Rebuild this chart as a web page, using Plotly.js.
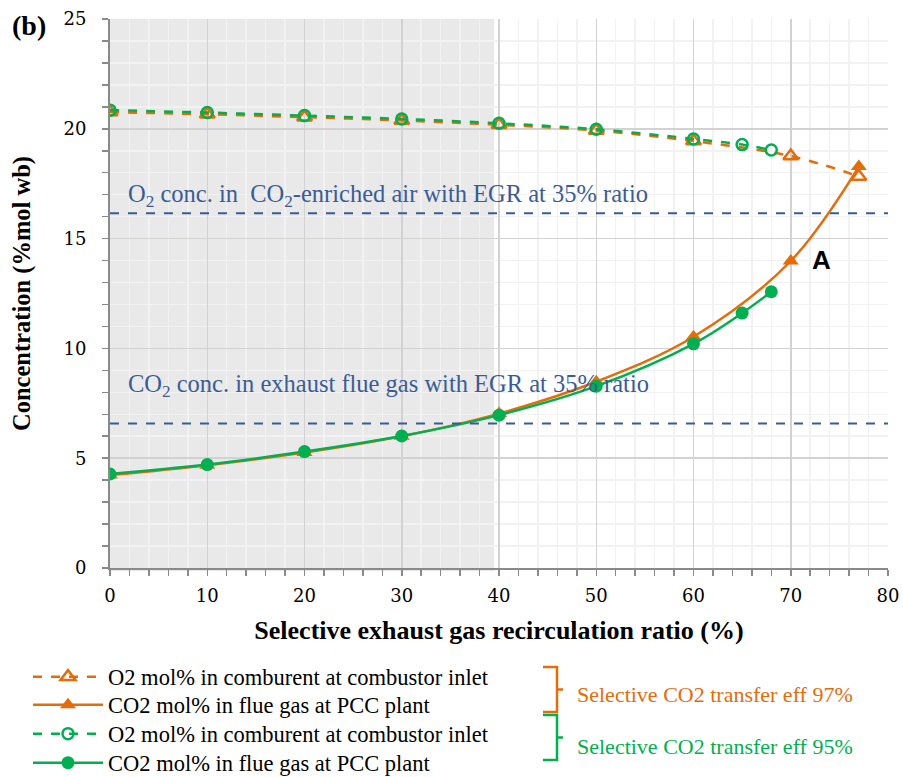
<!DOCTYPE html>
<html>
<head>
<meta charset="utf-8">
<script src="https://cdn.plot.ly/plotly-3.0.1.min.js"></script>
<style>html,body{margin:0;padding:0;background:#fff;}#chart{width:903px;height:777px;}</style>
</head>
<body>
<div id="chart"></div>
<script>
// ---- data ----
const xO2_97 = [0, 10, 20, 30, 40, 50, 60, 70, 77];
const yO2_97 = [20.76, 20.66, 20.53, 20.38, 20.18, 19.92, 19.44, 18.76, 17.83];
const xCO2_97 = [0, 10, 20, 30, 40, 50, 60, 70, 77];
const yCO2_97 = [4.23, 4.68, 5.26, 6.0, 7.03, 8.48, 10.53, 13.98, 18.28];
const xO2_95 = [0, 10, 20, 30, 40, 50, 60, 65, 68];
const yO2_95 = [20.85, 20.74, 20.6, 20.45, 20.25, 19.98, 19.54, 19.28, 19.03];
const xCO2_95 = [0, 10, 20, 30, 40, 50, 60, 65, 68];
const yCO2_95 = [4.28, 4.71, 5.3, 6.01, 6.96, 8.28, 10.21, 11.61, 12.58];
const refLevels = [16.16, 6.58];
const refLabels = ['O<sub>2</sub> conc. in  CO<sub>2</sub>-enriched air with EGR at 35% ratio',
                   'CO<sub>2</sub> conc. in exhaust flue gas with EGR at 35% ratio'];
const shadedRange = [0, 39.5];
const legendNames = ['O2 mol% in comburent at combustor inlet', 'CO2 mol% in flue gas at PCC plant',
                     'O2 mol% in comburent at combustor inlet', 'CO2 mol% in flue gas at PCC plant'];
const groupLabels = ['Selective CO2 transfer eff 97%', 'Selective CO2 transfer eff 95%'];
const pointLabel = {x: 73.2, y: 14.03, text: 'A'};

const ORANGE = '#E46C0A', GREEN = '#00B050', BLUE = '#3A5C96';
const SERIF = 'Liberation Serif, Times New Roman, serif';
const TICKSERIF = 'DejaVu Serif, Liberation Serif, serif';
const SANS = 'Liberation Sans, Arial, sans-serif';

// pixel -> paper helpers (layout positions only)
const L = 110, R = 888, T = 19, B = 568;
const px = v => (v - L) / (R - L);
const py = v => (B - v) / (B - T);

const legendIds = ['legend', 'legend2', 'legend3', 'legend4'];
const legendRows = [677, 705, 734, 763];

const traces = [
  {x: xO2_97, y: yO2_97, name: legendNames[0], legend: legendIds[0], mode: 'lines+markers', line: {color: ORANGE, width: 2.5, dash: 'dash', shape: 'spline'},
   marker: {symbol: 'triangle-up-open', size: 13, color: ORANGE, line: {width: 2.5, color: ORANGE}}},
  {x: xCO2_97, y: yCO2_97, name: legendNames[1], legend: legendIds[1], mode: 'lines+markers', line: {color: ORANGE, width: 2.5, shape: 'spline'},
   marker: {symbol: 'triangle-up', size: 14, color: ORANGE}},
  {x: xO2_95, y: yO2_95, name: legendNames[2], legend: legendIds[2], mode: 'lines+markers', line: {color: GREEN, width: 2.5, dash: 'dash', shape: 'spline'},
   marker: {symbol: 'circle-open', size: 11, color: GREEN, line: {width: 2.5, color: GREEN}}},
  {x: xCO2_95, y: yCO2_95, name: legendNames[3], legend: legendIds[3], mode: 'lines+markers', line: {color: GREEN, width: 2.5, shape: 'spline'},
   marker: {symbol: 'circle', size: 13, color: GREEN}}
];

const shapes = [
  {type: 'rect', xref: 'x', yref: 'paper', x0: shadedRange[0], x1: shadedRange[1], y0: -0.006, y1: 1, fillcolor: '#e9e9e9', line: {width: 0}, layer: 'below'}
];
refLevels.forEach(v => shapes.push({type: 'line', xref: 'paper', yref: 'y', x0: 0, x1: 1, y0: v, y1: v, line: {color: BLUE, width: 2, dash: 'dash'}}));

// brackets
function bracket(yTop, yBot, color) {
  const xv = 557, xl = 543, xr = 563, ym = (yTop + yBot) / 2;
  shapes.push({type: 'path', xref: 'paper', yref: 'paper',
    path: `M ${px(xl)},${py(yTop)} L ${px(xv)},${py(yTop)} L ${px(xv)},${py(yBot)} L ${px(xl)},${py(yBot)} M ${px(xv)},${py(ym)} L ${px(xr)},${py(ym)}`,
    line: {color: color, width: 2.5}});
}
bracket(667, 712, ORANGE);
bracket(715, 760, GREEN);

const annotations = [
  {xref: 'paper', yref: 'paper', x: px(126), y: py(195), xanchor: 'left', yanchor: 'middle', text: refLabels[0], showarrow: false, font: {family: SERIF, size: 24.5, color: BLUE}},
  {xref: 'paper', yref: 'paper', x: px(126), y: py(385), xanchor: 'left', yanchor: 'middle', text: refLabels[1], showarrow: false, font: {family: SERIF, size: 24.5, color: BLUE}},
  {xref: 'x', yref: 'y', x: pointLabel.x, y: pointLabel.y, xanchor: 'center', yanchor: 'middle', text: '<b>' + pointLabel.text + '</b>', showarrow: false, font: {family: SANS, size: 26, color: '#000'}},
  {xref: 'paper', yref: 'paper', x: px(10), y: py(25), xanchor: 'left', yanchor: 'middle', text: '<b>(b)</b>', showarrow: false, font: {family: SERIF, size: 28, color: '#000'}},
  {xref: 'paper', yref: 'paper', x: px(575), y: py(694), xanchor: 'left', yanchor: 'middle', text: groupLabels[0], showarrow: false, font: {family: SERIF, size: 22, color: ORANGE}},
  {xref: 'paper', yref: 'paper', x: px(575), y: py(746), xanchor: 'left', yanchor: 'middle', text: groupLabels[1], showarrow: false, font: {family: SERIF, size: 22, color: GREEN}}
];

const axisCommon = {
  showline: true, linecolor: '#8a8a8a', linewidth: 2, ticks: 'outside', ticklen: 6, tickwidth: 1.5, tickcolor: '#8a8a8a',
  gridcolor: '#d2d2d2', gridwidth: 1.5, zeroline: false, automargin: false,
  tickfont: {family: TICKSERIF, size: 18, color: '#000'}
};

const layout = {
  width: 903, height: 777,
  margin: {l: L, r: 903 - R, t: T, b: 777 - B, autoexpand: false},
  paper_bgcolor: '#fff', plot_bgcolor: '#fff',
  showlegend: true,
  xaxis: Object.assign({}, axisCommon, {range: [0, 80], dtick: 10, tick0: 0, ticklabelstandoff: 4,
    minor: {dtick: 2, showgrid: true, gridcolor: '#f2f2f2', gridwidth: 1.5, ticks: 'outside', ticklen: 6, tickcolor: '#8a8a8a'},
    title: {text: '<b>Selective exhaust gas recirculation ratio (%)</b>', font: {family: SERIF, size: 26, color: '#000'}, standoff: 16}}),
  yaxis: Object.assign({}, axisCommon, {range: [0, 25], dtick: 5, tick0: 0, ticklabelstandoff: 12,
    minor: {dtick: 1, showgrid: true, gridcolor: '#f2f2f2', gridwidth: 1.5, ticks: 'outside', ticklen: 6, tickcolor: '#8a8a8a'},
    title: {text: '<b>Concentration (%mol wb)</b>', font: {family: SERIF, size: 24.5, color: '#000'}, standoff: 26}}),
  shapes: shapes,
  annotations: annotations
};
legendIds.forEach((id, i) => {
  layout[id] = {x: px(28), y: py(legendRows[i]), xanchor: 'left', yanchor: 'middle', orientation: 'v',
    font: {family: SERIF, size: 22.5, color: '#000'}, bgcolor: 'rgba(0,0,0,0)', itemwidth: 70, visible: true};
});

Plotly.newPlot('chart', traces, layout, {displayModeBar: false, staticPlot: true});
</script>
</body>
</html>
